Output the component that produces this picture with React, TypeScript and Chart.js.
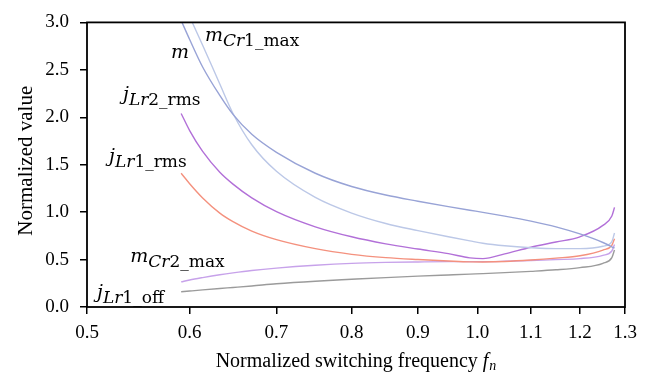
import React, { useEffect, useRef } from "react";
import { Chart, registerables } from "chart.js";

Chart.register(...registerables);

// Normalized switching frequency (shared sample grid)
const fn = [0.591, 0.6, 0.614, 0.633, 0.648, 0.67, 0.7, 0.75, 0.8, 0.85, 0.9, 0.95, 0.987, 1.01, 1.05, 1.1, 1.15, 1.2, 1.25, 1.27, 1.276];

const mVals = [3.02, 2.82, 2.53, 2.23, 2.03, 1.82, 1.63, 1.41, 1.27, 1.18, 1.115, 1.058, 1.02, 0.998, 0.958, 0.905, 0.845, 0.77, 0.68, 0.635, 0.62];
const mCr1Max = [3.25, 3.06, 2.76, 2.35, 2.04, 1.71, 1.43, 1.155, 0.99, 0.88, 0.805, 0.74, 0.697, 0.672, 0.645, 0.625, 0.615, 0.615, 0.64, 0.69, 0.78];
const jLr2Rms = [2.04, 1.86, 1.64, 1.42, 1.295, 1.15, 1.005, 0.845, 0.74, 0.666, 0.611, 0.562, 0.518, 0.51, 0.56, 0.63, 0.685, 0.74, 0.86, 0.96, 1.05];
const jLr1Rms = [1.41, 1.3, 1.15, 0.99, 0.9, 0.8, 0.71, 0.615, 0.555, 0.52, 0.5, 0.485, 0.476, 0.475, 0.48, 0.495, 0.515, 0.54, 0.6, 0.65, 0.72];
const mCr2Max = [0.265, 0.285, 0.31, 0.34, 0.36, 0.385, 0.41, 0.44, 0.46, 0.47, 0.475, 0.478, 0.478, 0.478, 0.482, 0.49, 0.5, 0.51, 0.545, 0.59, 0.66];
const jLr1Off = [0.16, 0.168, 0.18, 0.195, 0.206, 0.222, 0.245, 0.272, 0.292, 0.31, 0.325, 0.338, 0.347, 0.352, 0.362, 0.376, 0.392, 0.415, 0.46, 0.52, 0.6];

const xTicks = [0.5, 0.6, 0.7, 0.8, 0.9, 1.0, 1.1, 1.2, 1.3];
const yTicks = [0, 0.5, 1.0, 1.5, 2.0, 2.5, 3.0];

const SERIF = '"Liberation Serif", "Times New Roman", serif';
const MATH = '"DejaVu Serif", serif';

type Part = { t: string; kind: "main" | "subIt" | "subRm" };
// annotation anchors in data units (left edge, baseline of main letter)
const annotations: { x: number; y: number; parts: Part[] }[] = [
  { x: 0.6165, y: 2.8, parts: [{ t: "m", kind: "main" }, { t: "Cr", kind: "subIt" }, { t: "1_max", kind: "subRm" }] },
  { x: 0.5804, y: 2.63, parts: [{ t: "m", kind: "main" }] },
  { x: 0.533, y: 2.177, parts: [{ t: "j", kind: "main" }, { t: "Lr", kind: "subIt" }, { t: "2_rms", kind: "subRm" }] },
  { x: 0.52, y: 1.525, parts: [{ t: "j", kind: "main" }, { t: "Lr", kind: "subIt" }, { t: "1_rms", kind: "subRm" }] },
  { x: 0.54, y: 0.472, parts: [{ t: "m", kind: "main" }, { t: "Cr", kind: "subIt" }, { t: "2_max", kind: "subRm" }] },
  { x: 0.509, y: 0.09, parts: [{ t: "j", kind: "main" }, { t: "Lr", kind: "subIt" }, { t: "1_off", kind: "subRm" }] },
];

const series = [
  { label: "m", data: mVals, color: "#98a3d6" },
  { label: "mCr1_max", data: mCr1Max, color: "#bcc8e7" },
  { label: "jLr2_rms", data: jLr2Rms, color: "#b270d8" },
  { label: "jLr1_rms", data: jLr1Rms, color: "#f4917e" },
  { label: "mCr2_max", data: mCr2Max, color: "#c7a2ea" },
  { label: "jLr1_off", data: jLr1Off, color: "#9b9b9b" },
];

const decorPlugin = {
  id: "decor",
  afterDraw(chart: any) {
    const { ctx, chartArea: a, scales } = chart;
    const xs = scales.x;
    const ys = scales.y;
    ctx.save();
    // frame
    ctx.strokeStyle = "#000";
    ctx.lineWidth = 1.8;
    ctx.strokeRect(a.left, a.top, a.right - a.left, a.bottom - a.top);

    // annotations
    ctx.fillStyle = "#000";
    ctx.textAlign = "left";
    ctx.textBaseline = "alphabetic";
    for (const an of annotations) {
      let px = xs.getPixelForValue(an.x);
      const py = ys.getPixelForValue(an.y);
      for (const p of an.parts) {
        if (p.kind === "main") ctx.font = `italic 19px ${MATH}`;
        else if (p.kind === "subIt") ctx.font = `italic 17px ${MATH}`;
        else ctx.font = `17px ${MATH}`;
        const dy = p.kind === "main" ? 0 : 5;
        ctx.fillText(p.t, px, py + dy);
        px += ctx.measureText(p.t).width;
      }
    }

    // x title
    const t1 = "Normalized switching frequency ";
    ctx.font = `20px ${SERIF}`;
    const w1 = ctx.measureText(t1).width;
    ctx.font = `italic 20px ${SERIF}`;
    const w2 = ctx.measureText("f").width;
    ctx.font = `italic 14px ${SERIF}`;
    const w3 = ctx.measureText("n").width;
    const total = w1 + w2 + w3 + 1;
    let sx = (a.left + a.right) / 2 - total / 2;
    const by = 367;
    ctx.font = `20px ${SERIF}`;
    ctx.fillText(t1, sx, by);
    sx += w1;
    ctx.font = `italic 20px ${SERIF}`;
    ctx.fillText("f", sx, by);
    sx += w2 + 1;
    ctx.font = `italic 14px ${SERIF}`;
    ctx.fillText("n", sx, by + 3);

    // y title
    ctx.font = `21px ${SERIF}`;
    ctx.translate(32, (a.top + a.bottom) / 2 - 4);
    ctx.rotate(-Math.PI / 2);
    ctx.textAlign = "center";
    ctx.fillText("Normalized value", 0, 0);
    ctx.restore();
  },
};

export default function App() {
  const ref = useRef<HTMLCanvasElement | null>(null);
  useEffect(() => {
    if (!ref.current) return;
    const chart = new Chart(ref.current, {
      type: "line",
      data: {
        datasets: series.map((s) => ({
          label: s.label,
          data: fn.map((x, i) => ({ x, y: s.data[i] })),
          borderColor: s.color,
          backgroundColor: s.color,
          borderWidth: 1.4,
          pointRadius: 0,
          fill: false,
          cubicInterpolationMode: "monotone" as const,
          clip: 0,
        })),
      },
      options: {
        animation: false,
        responsive: false,
        maintainAspectRatio: false,
        layout: { padding: { top: 8, right: 35, left: 0, bottom: 0 } },
        plugins: { legend: { display: false }, tooltip: { enabled: false } },
        scales: {
          x: {
            type: "logarithmic",
            min: 0.5,
            max: 1.3,
            afterBuildTicks: (s: any) => {
              s.ticks = xTicks.map((v) => ({ value: v }));
            },
            afterFit: (s: any) => {
              s.height = 72;
            },
            border: { display: false },
            grid: { display: true, drawOnChartArea: false, drawTicks: true, tickLength: 7, color: "#000", lineWidth: 1.5 },
            ticks: {
              autoSkip: false,
              maxRotation: 0,
              padding: 8,
              color: "#000",
              font: { family: SERIF, size: 19 },
              callback: (v: any) => Number(v).toFixed(1),
            },
          },
          y: {
            type: "linear",
            min: 0,
            max: 3,
            afterBuildTicks: (s: any) => {
              s.ticks = yTicks.map((v) => ({ value: v }));
            },
            afterFit: (s: any) => {
              s.width = 87;
            },
            border: { display: false },
            grid: { display: true, drawOnChartArea: false, drawTicks: true, tickLength: 7, color: "#000", lineWidth: 1.5 },
            ticks: {
              padding: 11,
              color: "#000",
              font: { family: SERIF, size: 19 },
              callback: (v: any) => Number(v).toFixed(1),
            },
          },
        },
      },
      plugins: [decorPlugin],
    });
    return () => chart.destroy();
  }, []);
  return (
    <div style={{ position: "fixed", left: 0, top: 0, width: 660, height: 379, background: "#fff" }}>
      <canvas ref={ref} width={660} height={379} style={{ display: "block", width: 660, height: 379 }} />
    </div>
  );
}
